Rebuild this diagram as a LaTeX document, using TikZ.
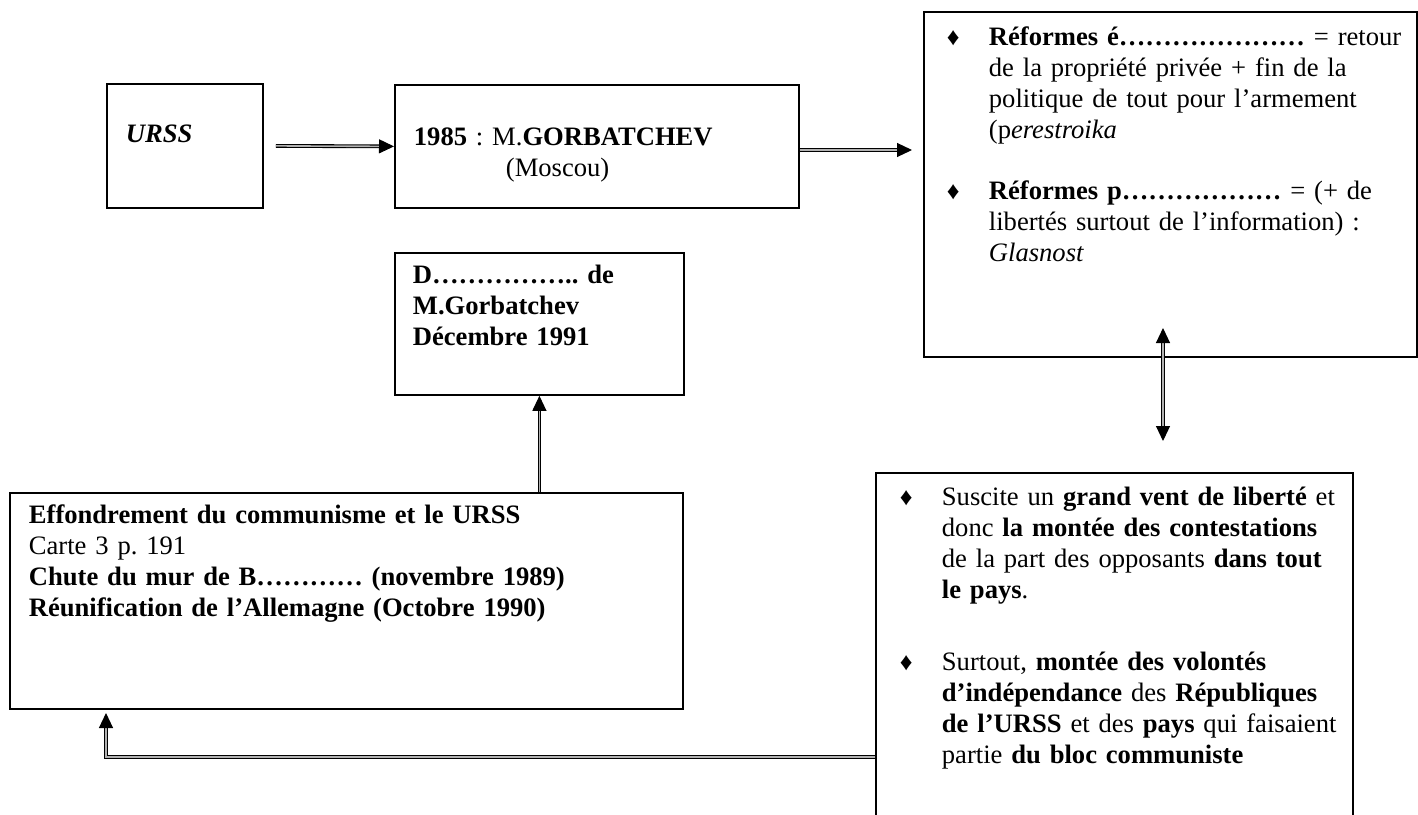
\documentclass[tikz,border=0pt]{standalone}
\usepackage{fontspec}
\setmainfont{Liberation Serif}
\usetikzlibrary{arrows.meta}
\newcommand\bulmk{\makebox[42pt][l]{\fontsize{25pt}{25pt}\selectfont ♦}}
\newcommand\bulsp{\hspace*{42pt}}

\begin{document}
\frenchspacing
\begin{tikzpicture}[x=1pt,y=-1pt]
  \tikzset{box/.style={draw, line width=1.8pt, anchor=north west, align=left, inner ysep=0pt,
      font=\fontsize{26.6pt}{31pt}\selectfont},
    dbl/.style={line width=1.1pt, double=gray!60, double distance=1.6pt},
    tip/.style={-{Triangle[length=15pt,width=14pt]}}}
\useasboundingbox (0,0) rectangle (1418,814);
\clip (0,0) rectangle (1418,814);
% boxes
\node[box, inner xsep=19pt, text width=118pt, text height=59pt, text depth=65pt] (urss) at (106,83) {\textbf{\textit{URSS}}};
\node[box, inner xsep=19pt, text width=366pt, text height=61pt, text depth=62pt] (gorba) at (394,84)
  {\begin{tabular}[t]{@{}l@{}}
   \textbf{1985} : M.\textbf{GORBATCHEV}\\
   \hspace*{92pt}(Moscou)
   \end{tabular}};
\node[box, inner xsep=23pt, text width=447pt, text height=34pt, text depth=311pt] (reformes) at (923,11)
  {\begin{tabular}[t]{@{}l@{}}
   \bulmk\textbf{Réformes é…………………} = retour\\
   \bulsp de la propriété privée + fin de la\\
   \bulsp politique de tout pour l’armement\\
   \bulsp (p\textit{erestroika}\\[30pt]
   \bulmk\textbf{Réformes p………………} = (+ de\\
   \bulsp libertés surtout de l’information) :\\
   \bulsp\textit{Glasnost}
   \end{tabular}};
\node[box, inner xsep=18pt, text width=253pt, text height=31pt, text depth=111pt] (deml) at (394,252)
  {\begin{tabular}[t]{@{}l@{}}
   \textbf{D…………….. de}\\
   \textbf{M.Gorbatchev}\\
   \textbf{Décembre 1991}
   \end{tabular}};
\node[box, inner xsep=19pt, text width=635pt, text height=31pt, text depth=185pt] (effon) at (9,492)
  {\begin{tabular}[t]{@{}l@{}}
   \textbf{Effondrement du communisme et le URSS}\\
   Carte 3 p. 191\\
   \textbf{Chute du mur de B………… (novembre 1989)}\\
   \textbf{Réunification de l’Allemagne (Octobre 1990)}
   \end{tabular}};
\node[box, inner xsep=24pt, text width=429pt, text height=33pt, text depth=347pt] (revolt) at (875,472)
  {\begin{tabular}[t]{@{}l@{}}
   \bulmk Suscite un \textbf{grand vent de liberté} et\\
   \bulsp donc \textbf{la montée des contestations}\\
   \bulsp de la part des opposants \textbf{dans tout}\\
   \bulsp\textbf{le pays}.\\[41pt]
   \bulmk Surtout, \textbf{montée des volontés}\\
   \bulsp\textbf{d’indépendance} des \textbf{Républiques}\\
   \bulsp\textbf{de l’URSS} et des \textbf{pays} qui faisaient\\
   \bulsp partie \textbf{du bloc communiste}
   \end{tabular}};
% arrows
\coordinate (a2) at (912,150);
\coordinate (dtop) at (1163,328);
\coordinate (dbot) at (1163,441);
\coordinate (corner) at (106,757);
\coordinate (a5) at (106,713);
\draw[dbl, tip] ([xshift=12pt]urss.east) -- (gorba.west);
\draw[dbl, tip] (gorba.east |- a2) -- (a2);
\draw[dbl, tip] (deml.south |- effon.north) -- (deml.south);
\draw[dbl, {Triangle[length=15pt,width=14pt]}-{Triangle[length=15pt,width=14pt]}] (dbot) -- (dtop);
\draw[dbl, tip] (revolt.west |- corner) -- (corner) -- (a5);
\end{tikzpicture}
\end{document}
